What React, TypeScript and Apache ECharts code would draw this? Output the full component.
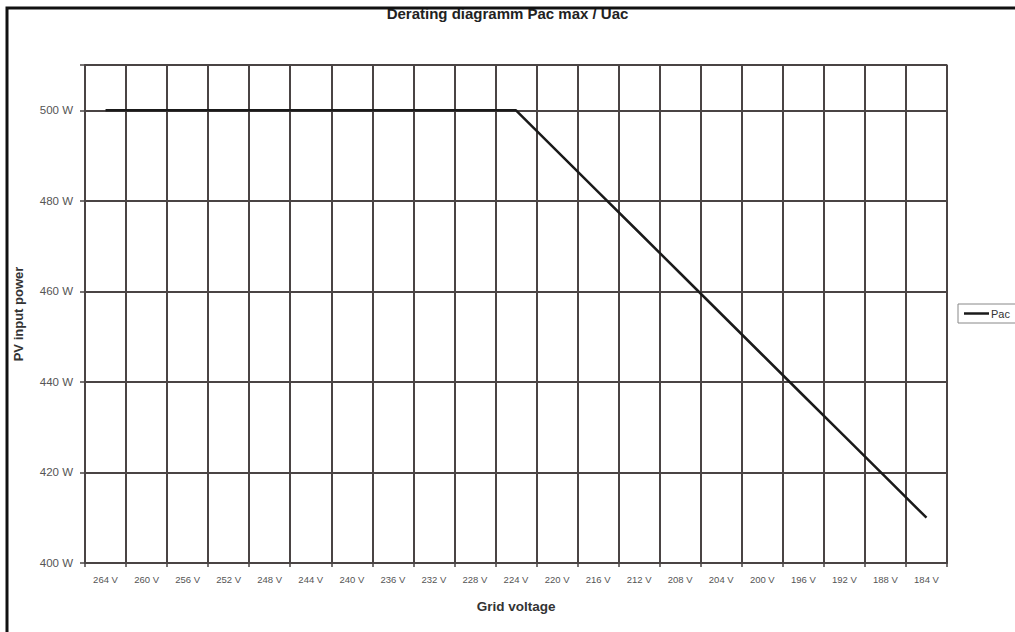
import React, { useEffect, useRef } from "react";
import * as echarts from "echarts";

const categories = [
  "264 V", "260 V", "256 V", "252 V", "248 V", "244 V", "240 V", "236 V", "232 V", "228 V",
  "224 V", "220 V", "216 V", "212 V", "208 V", "204 V", "200 V", "196 V", "192 V", "188 V", "184 V",
];
const pacValues = [
  500, 500, 500, 500, 500, 500, 500, 500, 500, 500,
  500, 491, 482, 473, 464, 455, 446, 437, 428, 419, 410,
];
const yMin = 400;
const yMax = 510;
const yStep = 20;

const FONT = "'Liberation Sans', Arial, sans-serif";
const GRID_COLOR = "#4a4444";

export default function App() {
  const ref = useRef<HTMLDivElement>(null);
  useEffect(() => {
    document.body.style.margin = "0";
    if (!ref.current) return;
    const chart = echarts.init(ref.current, null, { renderer: "svg" });
    chart.setOption({
      animation: false,
      backgroundColor: "#ffffff",
      title: {
        text: "Derating diagramm Pac max / Uac",
        left: "center",
        top: 1,
        textStyle: { fontFamily: FONT, fontSize: 15, fontWeight: "bold", color: "#222" },
      },
      graphic: [
        {
          type: "rect",
          shape: { x: 7, y: 8, width: 1100, height: 700 },
          style: { fill: "none", stroke: "#111", lineWidth: 3 },
          z: 100,
        },
      ],
      legend: {
        data: [{ name: "Pac", icon: "rect" }],
        left: 958,
        top: 304,
        orient: "vertical",
        itemWidth: 25,
        itemHeight: 2.5,
        itemGap: 4,
        padding: [4, 6, 4, 6],
        borderColor: "#888",
        borderWidth: 1,
        borderRadius: 0,
        textStyle: { fontFamily: FONT, fontSize: 11, color: "#333", padding: [0, 0, 0, -3] },
      },
      grid: {
        left: 85,
        right: 68,
        top: 65,
        bottom: 69,
        show: true,
        borderColor: "#8a8484",
        borderWidth: 1.5,
        backgroundColor: "transparent",
      },
      xAxis: {
        type: "category",
        data: categories,
        boundaryGap: true,
        name: "Grid voltage",
        nameLocation: "middle",
        nameGap: 36,
        nameTextStyle: { fontFamily: FONT, fontSize: 13.5, fontWeight: "bold", color: "#333" },
        axisLine: { show: true, lineStyle: { color: GRID_COLOR, width: 2 } },
        axisTick: { show: true, length: 4, lineStyle: { color: GRID_COLOR, width: 1.5 } },
        axisLabel: { interval: 0, fontFamily: FONT, fontSize: 9.5, color: "#555", margin: 11 },
        splitLine: { show: true, interval: 0, lineStyle: { color: GRID_COLOR, width: 2 } },
      },
      yAxis: {
        type: "value",
        min: yMin,
        max: yMax,
        interval: yStep,
        name: "PV input power",
        nameLocation: "middle",
        nameGap: 60,
        nameTextStyle: { fontFamily: FONT, fontSize: 13, fontWeight: "bold", color: "#333" },
        axisLine: { show: true, lineStyle: { color: GRID_COLOR, width: 2 } },
        axisTick: { show: true, length: 5, lineStyle: { color: GRID_COLOR, width: 1.5 } },
        axisLabel: {
          fontFamily: FONT,
          fontSize: 11.5,
          color: "#555",
          margin: 12,
          formatter: (v: number) => (v > 500 ? "" : v + " W"),
        },
        splitLine: { show: true, lineStyle: { color: GRID_COLOR, width: 2 } },
      },
      series: [
        {
          name: "Pac",
          type: "line",
          data: pacValues,
          symbol: "none",
          lineStyle: { color: "#1a1a1a", width: 2.5 },
          itemStyle: { color: "#1a1a1a" },
          z: 5,
        },
      ],
    });
    return () => chart.dispose();
  }, []);
  return <div ref={ref} style={{ width: 1015, height: 632 }} />;
}
